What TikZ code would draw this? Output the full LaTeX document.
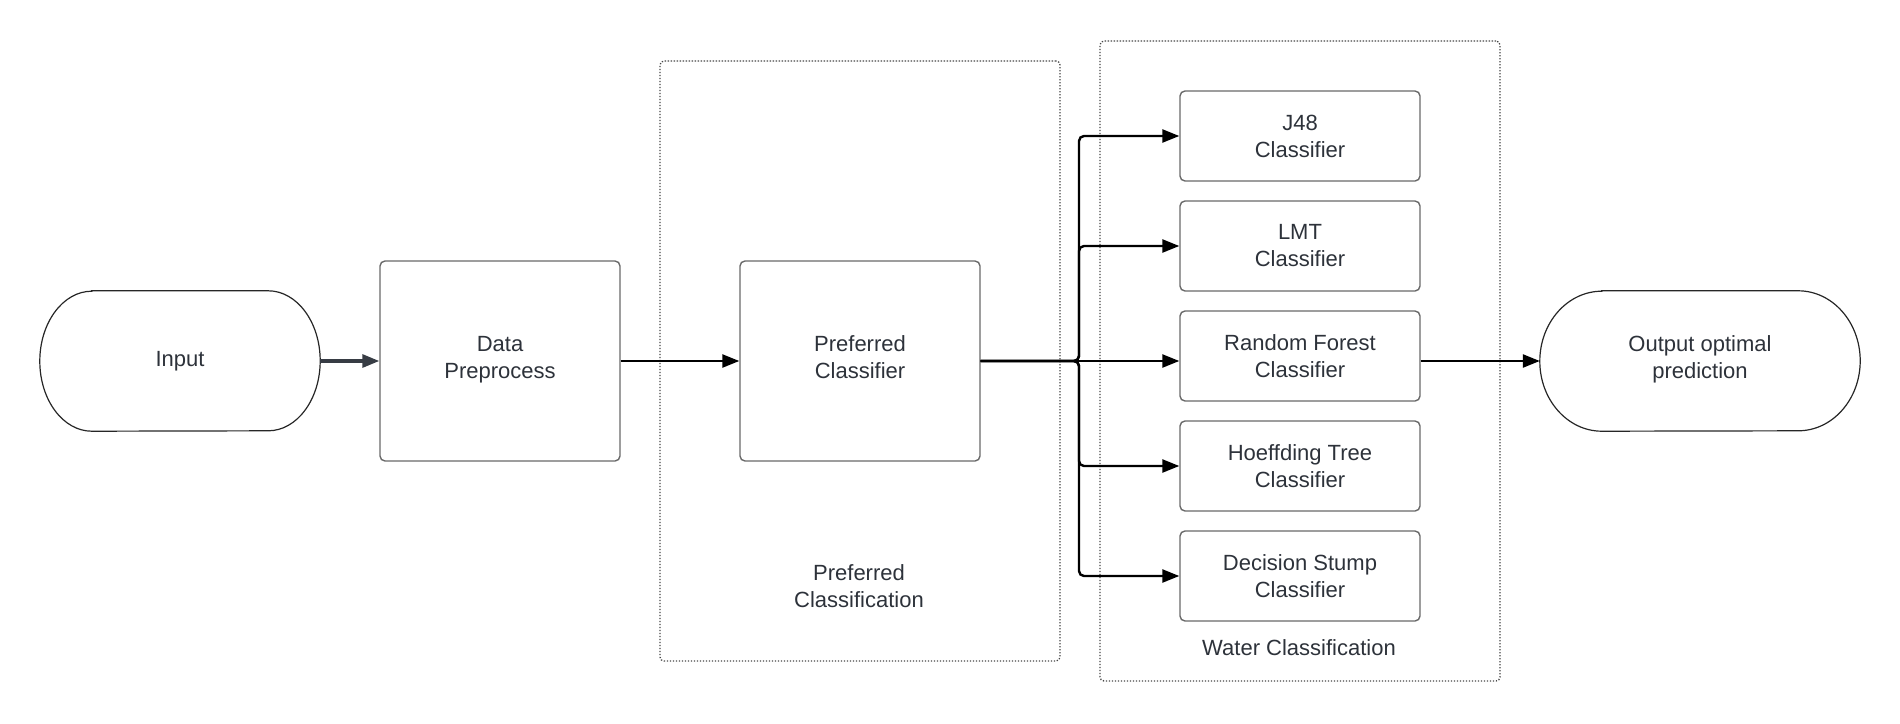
\documentclass[tikz,border=0pt]{standalone}
\usepackage{fontspec}
\setmainfont{Liberation Sans}
\usetikzlibrary{arrows.meta}
\definecolor{txt}{RGB}{45,50,58}
\definecolor{boxln}{RGB}{105,105,105}
\definecolor{dotln}{RGB}{70,70,70}
\definecolor{inarrow}{RGB}{55,60,68}
\tikzset{
  every node/.style={font=\fontsize{22}{27}\selectfont, text=txt, align=center},
  procbox/.style={draw=boxln, line width=1.4pt, rounded corners=5pt, minimum width=240pt, inner sep=0pt},
  raised/.style={text depth=8pt},
  groupbox/.style={draw=dotln, line width=1.3pt, dash pattern=on 1.3pt off 1.7pt, rounded corners=4pt, inner sep=0pt},
  termshape/.style={draw=black!85, line width=1.2pt},
  conn/.style={draw=black, line width=2.4pt, rounded corners=5pt, -{Triangle[length=17pt,width=13pt]}},
  inconn/.style={draw=inarrow, line width=3.2pt, -{Triangle[length=17pt,width=13pt]}},
}
\begin{document}
\begin{tikzpicture}[x=1pt,y=-1pt]
\useasboundingbox (0,0) rectangle (1900,723);
% group boxes
\node[groupbox, minimum width=400pt, minimum height=600pt] (prefgrp) at (860,361) {};
\node[groupbox, minimum width=400pt, minimum height=640pt] (watergrp) at (1300,361) {};
\node (preflabel) at (859,586) {Preferred\\Classification};
\node (waterlabel) at (1299,648) {Water Classification};
% terminals
\node[minimum width=280pt, minimum height=140pt, inner sep=0pt] (in) at (180,361) {Input};
\draw[termshape] ([xshift=52pt]in.north west) -- ([xshift=-52pt]in.north east)
  arc[start angle=90, end angle=-90, x radius=52pt, y radius=70pt]
  -- ([xshift=52pt]in.south west)
  arc[start angle=270, end angle=90, x radius=52pt, y radius=70pt] -- cycle;
\node[raised, minimum width=320pt, minimum height=140pt, inner sep=0pt] (out) at (1700,361) {Output optimal\\prediction};
\draw[termshape] ([xshift=62pt]out.north west) -- ([xshift=-62pt]out.north east)
  arc[start angle=90, end angle=-90, x radius=62pt, y radius=70pt]
  -- ([xshift=62pt]out.south west)
  arc[start angle=270, end angle=90, x radius=62pt, y radius=70pt] -- cycle;
% process boxes
\node[procbox, raised, minimum height=200pt] (dp) at (500,361) {Data\\Preprocess};
\node[procbox, raised, minimum height=200pt] (pc) at (860,361) {Preferred\\Classifier};
\node[procbox, minimum height=90pt] (j48) at (1300,136) {J48\\Classifier};
\node[procbox, minimum height=90pt] (lmt) at (1300,246) {LMT\\Classifier};
\node[procbox, minimum height=90pt] (rf) at (1300,356) {Random Forest\\Classifier};
\node[procbox, minimum height=90pt] (ht) at (1300,466) {Hoeffding Tree\\Classifier};
\node[procbox, minimum height=90pt] (ds) at (1300,576) {Decision Stump\\Classifier};
% connectors
\coordinate (bus) at (1079,361);
\draw[inconn] (in.east) -- (dp.west);
\draw[conn] (dp.east) -- (pc.west);
\draw[conn] (pc.east) -- (bus) |- (j48.west);
\draw[conn] (pc.east) -- (bus) |- (lmt.west);
\draw[conn] (pc.east) -- (rf.west |- bus);
\draw[conn] (pc.east) -- (bus) |- (ht.west);
\draw[conn] (pc.east) -- (bus) |- (ds.west);
\draw[conn] (rf.east |- bus) -- (out.west);
\end{tikzpicture}
\end{document}
